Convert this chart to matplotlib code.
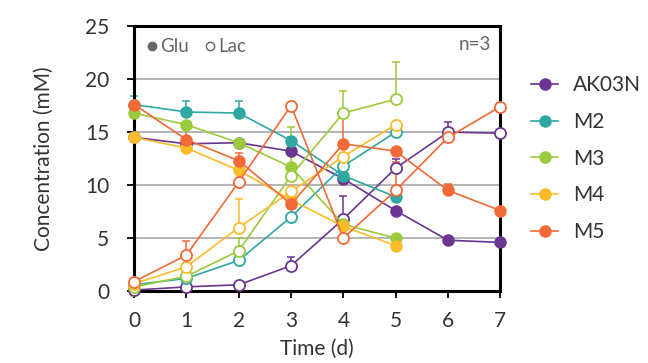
import numpy as np
import matplotlib
matplotlib.use('Agg')
import matplotlib.pyplot as plt
from matplotlib.lines import Line2D

plt.rcParams['font.family'] = ['Lato', 'DejaVu Sans']

days = [0, 1, 2, 3, 4, 5, 6, 7]
strains = ['AK03N', 'M2', 'M3', 'M4', 'M5']
colors = ['#6b3592', '#2fa8a3', '#9bcb3c', '#fbbc2c', '#f26a36']

# glucose (filled) and lactate (open), mM; M2-M4 only sampled to day 5
glu_ak03n = [14.5, 13.9, 14.0, 13.2, 10.6, 7.6, 4.8, 4.6]
glu_m2 = [17.6, 16.9, 16.8, 14.2, 10.9, 8.9]
glu_m3 = [16.8, 15.7, 14.0, 11.7, 6.3, 5.0]
glu_m4 = [14.5, 13.5, 11.4, 8.6, 6.1, 4.3]
glu_m5 = [17.6, 14.3, 12.3, 8.2, 13.9, 13.2, 9.5, 7.6]

lac_ak03n = [0.1, 0.4, 0.6, 2.4, 6.8, 11.6, 15.0, 14.9]
lac_m2 = [0.6, 1.2, 2.9, 7.0, 11.8, 15.0]
lac_m3 = [0.4, 1.4, 3.8, 10.9, 16.8, 18.1]
lac_m4 = [0.7, 2.3, 6.0, 9.4, 12.7, 15.7]
lac_m5 = [0.9, 3.4, 10.3, 17.5, 5.0, 9.5, 14.5, 17.4]

# upper error bars (SD)
glu_err_ak03n = [0.2, 0.2, 0.2, 0.2, 0.2, 0.2, 0.2, 0.2]
glu_err_m2 = [0.8, 1.0, 1.1, 0.3, 0.2, 0.2]
glu_err_m3 = [0.2, 0.2, 0.2, 3.8, 0.2, 0.2]
glu_err_m4 = [0.2, 0.2, 0.2, 0.2, 0.2, 0.2]
glu_err_m5 = [0.2, 1.0, 0.7, 0.2, 3.0, 0.2, 0.6, 0.2]

lac_err_ak03n = [0.1, 0.1, 0.1, 0.8, 2.2, 0.9, 1.0, 0.2]
lac_err_m2 = [0.1, 0.1, 0.2, 0.2, 0.2, 0.2]
lac_err_m3 = [0.1, 0.1, 1.2, 0.2, 2.1, 3.5]
lac_err_m4 = [0.1, 0.1, 2.7, 0.2, 0.2, 0.2]
lac_err_m5 = [0.1, 1.3, 0.2, 0.2, 0.2, 2.7, 0.2, 0.2]

glu = [glu_ak03n, glu_m2, glu_m3, glu_m4, glu_m5]
lac = [lac_ak03n, lac_m2, lac_m3, lac_m4, lac_m5]
glu_err = [glu_err_ak03n, glu_err_m2, glu_err_m3, glu_err_m4, glu_err_m5]
lac_err = [lac_err_ak03n, lac_err_m2, lac_err_m3, lac_err_m4, lac_err_m5]

fig = plt.figure(figsize=(6.48, 3.63), dpi=100)
ax = fig.add_axes([0.207, 0.198, 0.565, 0.730])

for y in [5, 10, 15, 20]:
    ax.axhline(y, color='#a0a0a0', lw=1.1, zorder=0)

for i in range(len(strains)):
    c = colors[i]
    n = len(glu[i])
    x = days[:n]
    ax.errorbar(x, glu[i], yerr=[np.zeros(n), glu_err[i]], fmt='none', ecolor=c,
                elinewidth=1.1, capsize=3, capthick=1.1, clip_on=False, zorder=2)
    ax.errorbar(x, lac[i], yerr=[np.zeros(n), lac_err[i]], fmt='none', ecolor=c,
                elinewidth=1.1, capsize=3, capthick=1.1, clip_on=False, zorder=2)
    ax.plot(x, glu[i], '-o', color=c, lw=1.2, ms=8, mec=c, clip_on=False, zorder=3,
            label=strains[i])
    ax.plot(x, lac[i], '-o', color=c, lw=1.2, ms=8, mfc='white', mec=c, mew=1.3,
            clip_on=False, zorder=3)

ax.set_xlim(0, 7)
ax.set_ylim(0, 25)
ax.set_xticks(days)
ax.set_yticks([0, 5, 10, 15, 20, 25])
for s in ax.spines.values():
    s.set_linewidth(2.2)
    s.set_color('black')
ax.tick_params(direction='out', length=5, width=1.3, labelsize=15, colors='black',
               labelcolor='#333333')
ax.tick_params(axis='x', pad=9)
ax.tick_params(axis='y', pad=13)
ax.set_xlabel('Time (d)', fontsize=15, color='#333333', labelpad=6)
ax.set_ylabel('Concentration (mM)', fontsize=15, color='#333333', labelpad=22)

leg = ax.legend(loc='center left', bbox_to_anchor=(1.033, 0.5), frameon=False,
                fontsize=15, handlelength=1.3, handletextpad=0.7, labelspacing=0.8)
for t in leg.get_texts():
    t.set_color('#333333')

key = [Line2D([], [], ls='none', marker='o', ms=6, color='#666666'),
       Line2D([], [], ls='none', marker='o', ms=6, mfc='white', mec='#666666', mew=1)]
leg2 = ax.legend(key, ['Glu', 'Lac'], loc='upper left', ncol=2, frameon=False,
                 fontsize=13.5, handlelength=0.6, handletextpad=0.15, columnspacing=0.8,
                 borderaxespad=0.25)
for t in leg2.get_texts():
    t.set_color('#666666')
ax.add_artist(leg)

ax.text(0.975, 0.93, 'n=3', transform=ax.transAxes, ha='right', va='center',
        fontsize=13.5, color='#666666')

fig.savefig('out.png', dpi=100)
